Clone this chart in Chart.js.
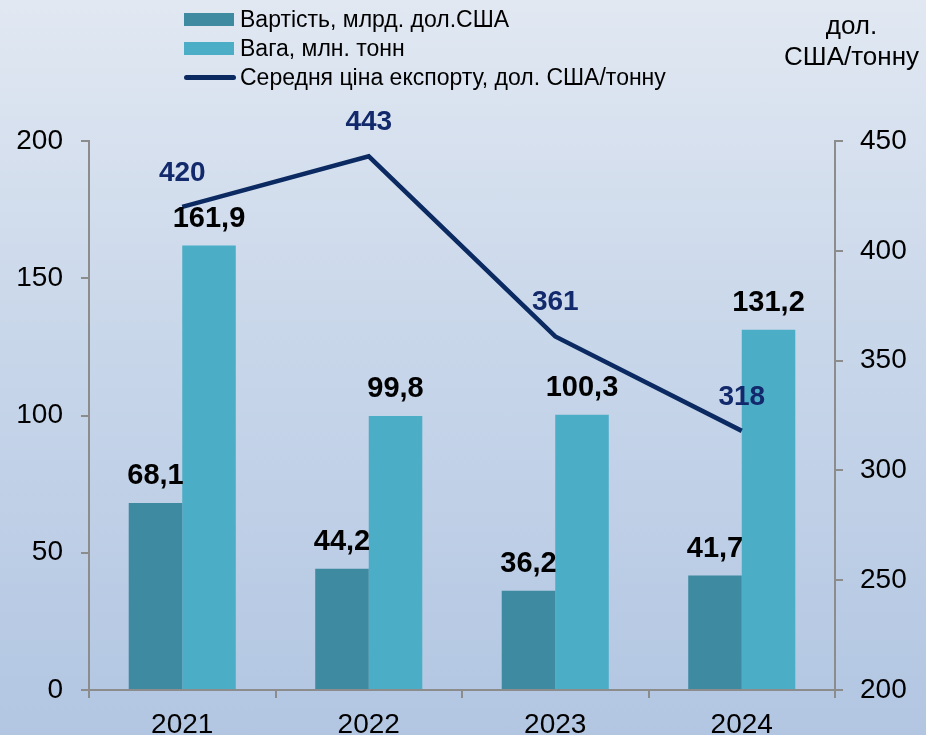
<!DOCTYPE html>
<html>
<head>
<meta charset="utf-8">
<script src="https://cdn.jsdelivr.net/npm/chart.js@4"></script>
<style>
  html, body { margin: 0; padding: 0; }
  body {
    width: 926px; height: 735px; overflow: hidden; position: relative;
    background: linear-gradient(to bottom, #e1e8f2 0%, #c9d7ea 45%, #b2c6e2 100%);
    font-family: "Liberation Sans", Arial, sans-serif;
  }
  #wrap { position: absolute; left: 0; top: 0; width: 926px; height: 735px; }
  .legend { position: absolute; left: 184px; top: 5px; font-size: 23px; color: #000; }
  .row { height: 29px; display: flex; align-items: center; }
  .sw { width: 50px; height: 13px; margin-right: 6px; }
  .ln { width: 52px; height: 5px; border-radius: 3px; margin-right: 4px; background: #0c2a62; }
  .unit { position: absolute; right: 7px; top: 10px; font-size: 26px; text-align: center; line-height: 31px; color: #000; }
</style>
</head>
<body>
<div id="wrap"><canvas id="exportChart" width="926" height="735"></canvas></div>
<div class="legend">
  <div class="row"><div class="sw" style="background:#3d8aa1"></div>Вартість, млрд. дол.США</div>
  <div class="row"><div class="sw" style="background:#4badc6"></div>Вага, млн. тонн</div>
  <div class="row"><div class="ln"></div>Середня ціна експорту, дол. США/тонну</div>
</div>
<div class="unit">дол.<br>США/тонну</div>
<script>
const years = ['2021', '2022', '2023', '2024'];
const value_bln = [68.1, 44.2, 36.2, 41.7];
const weight_mln = [161.9, 99.8, 100.3, 131.2];
const price_usd = [420, 443, 361, 318];

const fmt = v => String(v).replace('.', ',');

// data labels above bars and line points
const valueLabels = {
  id: 'valueLabels',
  afterDatasetsDraw(chart) {
    const ctx = chart.ctx;
    ctx.save();
    ctx.textAlign = 'center';
    ctx.textBaseline = 'middle';
    chart.data.datasets.forEach((ds, i) => {
      const meta = chart.getDatasetMeta(i);
      meta.data.forEach((el, j) => {
        if (ds.type === 'line') {
          ctx.font = 'bold 28px "Liberation Sans", Arial, sans-serif';
          ctx.fillStyle = '#12296b';
          ctx.fillText(fmt(ds.data[j]), el.x, el.y - 34);
        } else {
          ctx.font = 'bold 29px "Liberation Sans", Arial, sans-serif';
          ctx.fillStyle = '#000';
          ctx.fillText(fmt(ds.data[j]), el.x, el.y - 27);
        }
      });
    });
    ctx.restore();
  }
};

const tickFont = { family: '"Liberation Sans", Arial, sans-serif', size: 28 };

const config = {
  data: {
    labels: years,
    datasets: [
      {
        type: 'line',
        label: 'Середня ціна експорту, дол. США/тонну',
        data: price_usd,
        yAxisID: 'y2',
        borderColor: '#0c2a62',
        borderWidth: 4.5,
        pointRadius: 0,
        tension: 0,
        order: 0
      },
      {
        type: 'bar',
        label: 'Вартість, млрд. дол.США',
        data: value_bln,
        yAxisID: 'y',
        backgroundColor: '#3d8aa1',
        categoryPercentage: 0.574,
        barPercentage: 1,
        order: 1
      },
      {
        type: 'bar',
        label: 'Вага, млн. тонн',
        data: weight_mln,
        yAxisID: 'y',
        backgroundColor: '#4badc6',
        categoryPercentage: 0.574,
        barPercentage: 1,
        order: 1
      }
    ]
  },
  options: {
    responsive: false,
    animation: false,
    layout: { padding: { top: 141, left: 0, right: 0, bottom: 0 } },
    plugins: { legend: { display: false }, tooltip: { enabled: false } },
    scales: {
      x: {
        offset: true,
        grid: { offset: true, drawOnChartArea: false, tickLength: 8, color: '#8c8c8c', lineWidth: 2 },
        border: { color: '#8c8c8c', width: 2 },
        ticks: { color: '#000', font: tickFont, padding: 10 },
        afterFit(scale) { scale.height = 45; }
      },
      y: {
        position: 'left',
        min: 0, max: 200,
        ticks: { stepSize: 50, color: '#000', font: tickFont, padding: 18 },
        grid: { drawOnChartArea: false, tickLength: 8, color: '#8c8c8c', lineWidth: 2 },
        border: { color: '#8c8c8c', width: 2 },
        afterFit(scale) { scale.width = 89; }
      },
      y2: {
        position: 'right',
        min: 200, max: 450,
        ticks: { stepSize: 50, color: '#000', font: tickFont, padding: 17 },
        grid: { drawOnChartArea: false, tickLength: 8, color: '#8c8c8c', lineWidth: 2 },
        border: { color: '#8c8c8c', width: 2 },
        afterFit(scale) { scale.width = 91; }
      }
    }
  },
  plugins: [valueLabels]
};

new Chart(document.getElementById('exportChart'), config);
</script>
</body>
</html>
